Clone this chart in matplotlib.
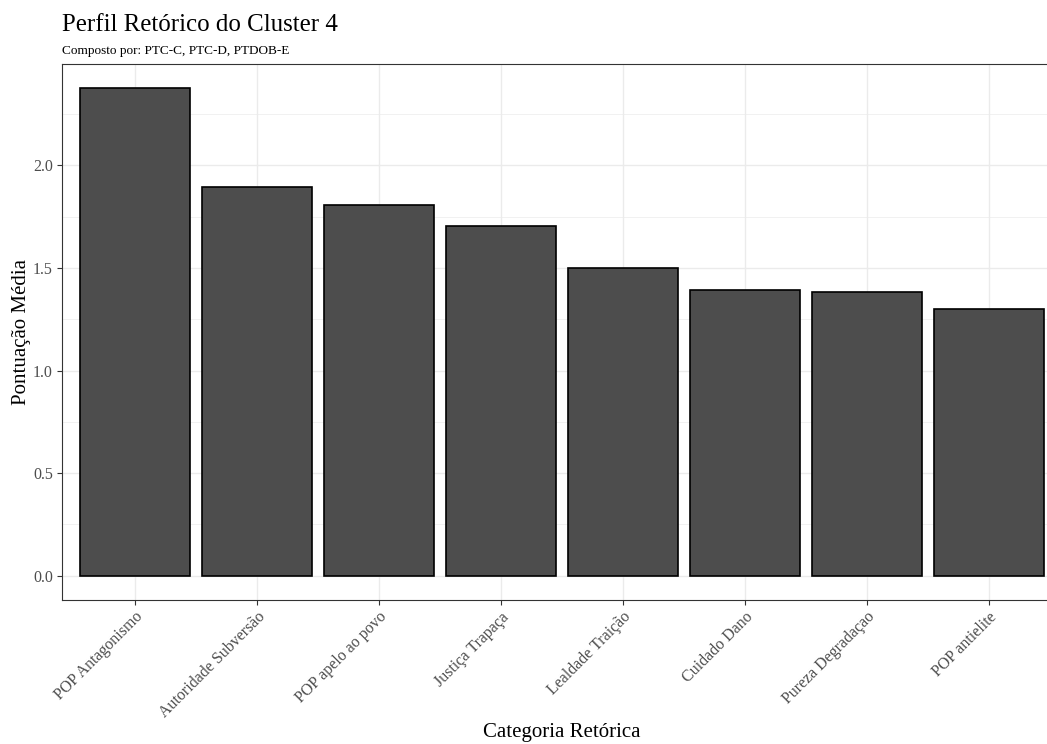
import matplotlib
matplotlib.use("Agg")
import matplotlib.pyplot as plt
from matplotlib.ticker import MultipleLocator

categories = ["POP Antagonismo", "Autoridade Subversão", "POP apelo ao povo",
              "Justiça Trapaça", "Lealdade Traição", "Cuidado Dano",
              "Pureza Degradaçao", "POP antielite"]
values = [2.376, 1.893, 1.805, 1.707, 1.498, 1.395, 1.385, 1.302]
yticks = [0.0, 0.5, 1.0, 1.5, 2.0]

plt.rcParams['font.family'] = ['Liberation Serif', 'DejaVu Serif']

fig = plt.figure(figsize=(10.47, 7.44), dpi=100)
ax = fig.add_axes([62/1047, 1-600/744, 1000/1047, (600-64)/744])

x = list(range(len(categories)))
ax.bar(x, values, width=0.9, color='#4D4D4D', edgecolor='black', linewidth=1.2, zorder=3)

ymax = max(values)
ax.set_ylim(-0.05*ymax, ymax*1.05)
ax.set_xlim(-0.6, len(categories)-1+0.6)

ax.set_yticks(yticks)
ax.set_yticklabels([f"{v:.1f}" for v in yticks])
ax.yaxis.set_minor_locator(MultipleLocator(0.25))
ax.set_xticks(x)
ax.set_xticklabels(categories, rotation=45, ha='right', rotation_mode='anchor')

ax.grid(which='major', color='#EBEBEB', linewidth=1.0, zorder=0)
ax.grid(which='minor', axis='y', color='#EBEBEB', linewidth=0.5, zorder=0)
ax.set_axisbelow(True)

for s in ax.spines.values():
    s.set_color('#333333')
    s.set_linewidth(0.8)

ax.tick_params(axis='both', which='major', colors='#333333', length=3.5, width=0.8,
               labelsize=11.5, labelcolor='#4D4D4D', pad=3)
ax.tick_params(axis='y', which='minor', length=0)

ax.set_xlabel("Categoria Retórica", fontsize=15)
ax.xaxis.set_label_coords(0.5, -(742-600)/536, transform=ax.transAxes)
ax.xaxis.label.set_va('bottom')
ax.set_ylabel("Pontuação Média", fontsize=15)
ax.yaxis.set_label_coords(-(62-12)/1000, 0.5, transform=ax.transAxes)
ax.yaxis.label.set_va('top')

fig.text(62/1047, 1-31/744, "Perfil Retórico do Cluster 4", fontsize=17.9, ha='left', va='baseline')
fig.text(62/1047, 1-54/744, "Composto por: PTC-C, PTC-D, PTDOB-E", fontsize=9.5, ha='left', va='baseline')

fig.savefig("out.png", dpi=100)
